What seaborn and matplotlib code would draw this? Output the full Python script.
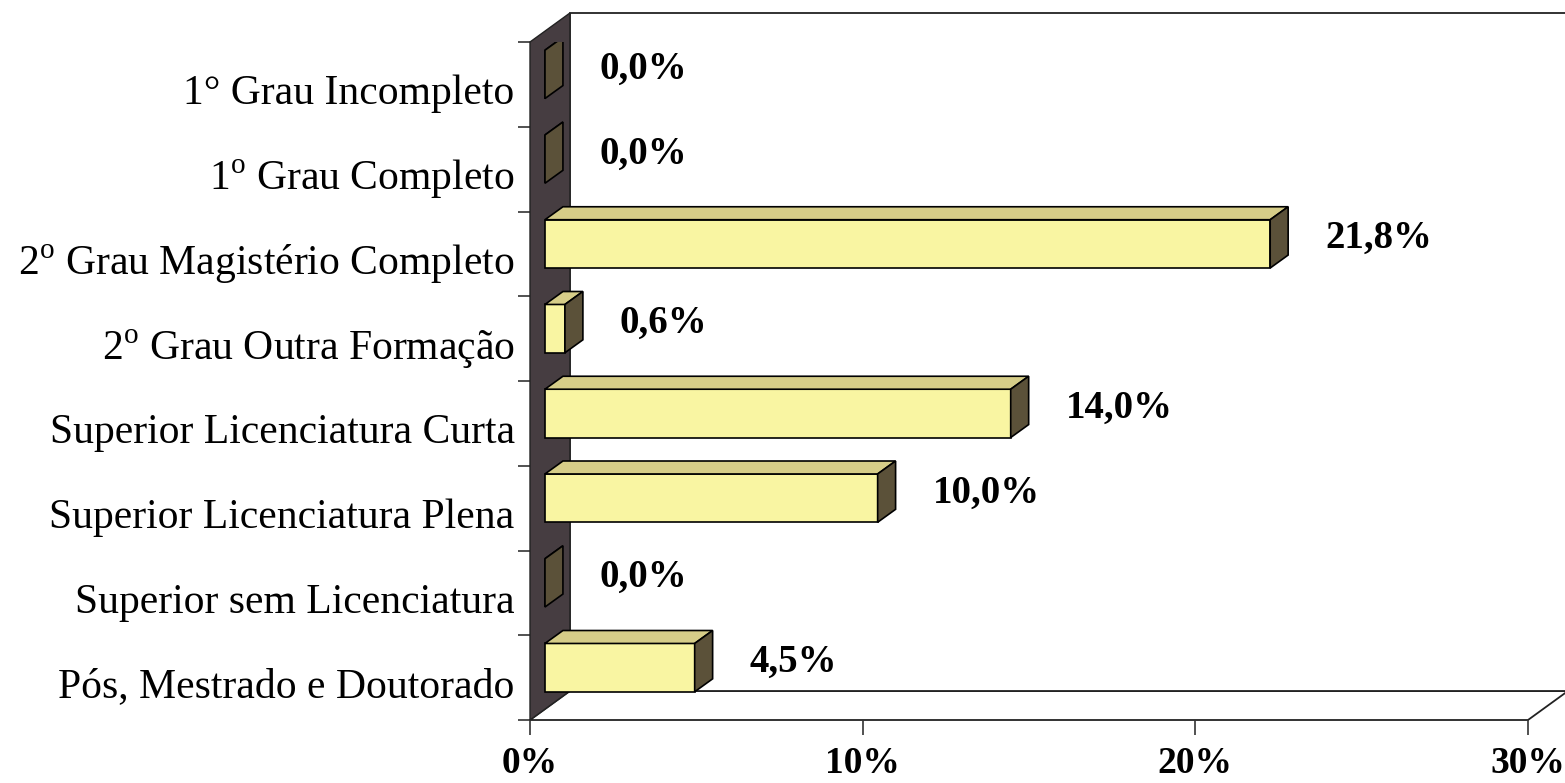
import matplotlib
matplotlib.use('Agg')
import matplotlib.pyplot as plt
import seaborn as sns
from matplotlib.patches import Polygon
from matplotlib.ticker import FixedLocator
from matplotlib.transforms import ScaledTranslation

# Dados: formação dos professores (%)
categorias = ['1° Grau Incompleto',
              '1$^{\\rm o}$ Grau Completo',
              '2$^{\\rm o}$ Grau Magistério Completo',
              '2$^{\\rm o}$ Grau Outra Formação',
              'Superior Licenciatura Curta',
              'Superior Licenciatura Plena',
              'Superior sem Licenciatura',
              'Pós, Mestrado e Doutorado']
valores = [0.0, 0.0, 21.8, 0.6, 14.0, 10.0, 0.0, 4.5]
rotulos = ['0,0%', '0,0%', '21,8%', '0,6%', '14,0%', '10,0%', '0,0%', '4,5%']
ticks_x = [0, 10, 20, 30]
ticks_x_rotulos = ['0%', '10%', '20%', '30%']

sns.set_style('white')
plt.rcParams['font.family'] = ['Liberation Serif', 'DejaVu Serif']
plt.rcParams['mathtext.fontset'] = 'custom'
plt.rcParams['mathtext.rm'] = 'Liberation Serif'
plt.rcParams['text.color'] = 'black'
plt.rcParams['xtick.color'] = 'black'
plt.rcParams['ytick.color'] = 'black'

cor_frente = '#f9f5a2'
cor_topo = '#d6cd88'
cor_lado = '#5b5139'
cor_parede = '#463d41'

# profundidade do "3D" (em unidades dos dados)
dx_parede, dy_parede = 1.2, -0.342
dx_frente, dy_frente = 0.45, -0.118
dx_barra, dy_barra = 0.54, -0.153
altura = 0.57
xmax = 30
n = len(categorias)

fig = plt.figure(figsize=(15.65, 7.83), dpi=100)
ax = fig.add_axes([530 / 1565, 1 - 720 / 783, 998 / 1565, 678 / 783])
ax.patch.set_visible(False)

# chão, parede do fundo e parede lateral
fundo_y = n - 0.5
topo_y = -0.5
chao = Polygon([(0, fundo_y), (xmax, fundo_y), (xmax + dx_parede, fundo_y + dy_parede),
                (dx_parede, fundo_y + dy_parede)], closed=True, facecolor='white',
               edgecolor='#222222', lw=1.3, clip_on=False, zorder=0)
ax.add_patch(chao)
fundo = Polygon([(dx_parede, topo_y + dy_parede), (xmax + dx_parede, topo_y + dy_parede),
                 (xmax + dx_parede, fundo_y + dy_parede), (dx_parede, fundo_y + dy_parede)],
                closed=True, facecolor='white', edgecolor='#222222', lw=1.3,
                clip_on=False, zorder=0)
ax.add_patch(fundo)
parede = Polygon([(0, fundo_y), (0, topo_y), (dx_parede, topo_y + dy_parede),
                  (dx_parede, fundo_y + dy_parede)], closed=True, facecolor=cor_parede,
                 edgecolor='#222222', lw=1.0, clip_on=False, zorder=1)
ax.add_patch(parede)

# face frontal das barras com seaborn
sns.barplot(x=valores, y=categorias, orient='h', color=cor_frente, saturation=1,
            width=altura, edgecolor='black', linewidth=1.2, ax=ax, zorder=3)
for p in ax.patches[3:]:
    p.set_x(p.get_x() + dx_frente)
    p.set_y(p.get_y() + dy_frente)

# topo e lateral das barras
for i, v in enumerate(valores):
    y0 = i + dy_frente - altura / 2
    y1 = i + dy_frente + altura / 2
    x0 = dx_frente
    x1 = dx_frente + v
    topo = Polygon([(x0, y0), (x1, y0), (x1 + dx_barra, y0 + dy_barra),
                    (x0 + dx_barra, y0 + dy_barra)], closed=True, facecolor=cor_topo,
                   edgecolor='black', lw=1.2, zorder=3)
    lado = Polygon([(x1, y0), (x1, y1), (x1 + dx_barra, y1 + dy_barra),
                    (x1 + dx_barra, y0 + dy_barra)], closed=True, facecolor=cor_lado,
                   edgecolor='black', lw=1.2, zorder=3)
    ax.add_patch(topo)
    ax.add_patch(lado)
    ax.text(x1 + 1.65, i - 0.18, rotulos[i], fontsize=28, fontweight='bold',
            ha='left', va='center', zorder=4)

ax.set_xlim(0, xmax)
ax.set_ylim(n - 0.5, -0.5)
ax.set_xlabel('')
ax.set_ylabel('')
for s in ax.spines.values():
    s.set_visible(False)

ax.set_xticks(ticks_x)
ax.set_xticklabels(ticks_x_rotulos, fontsize=27, fontweight='bold')
ax.tick_params(axis='x', direction='out', length=11, width=1.2, color='#333333',
               pad=8, bottom=True)

ax.tick_params(axis='y', which='major', length=0, pad=11, labelsize=30)
ax.yaxis.set_minor_locator(FixedLocator([k - 0.5 for k in range(n + 1)]))
ax.tick_params(axis='y', which='minor', direction='out', length=9, width=1.2,
               color='#333333', left=True)
for lab in ax.get_yticklabels():
    lab.set_transform(lab.get_transform() + ScaledTranslation(0, -5 / 100, fig.dpi_scale_trans))

fig.savefig('out.png', dpi=100)
